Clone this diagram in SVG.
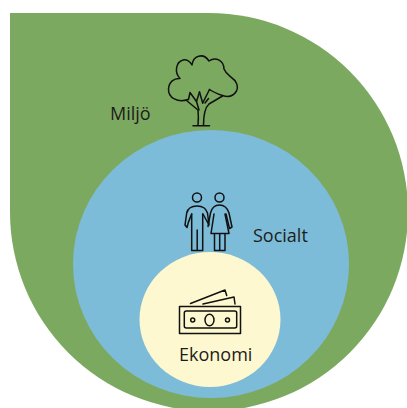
<svg xmlns="http://www.w3.org/2000/svg" width="407" height="408" viewBox="0 0 407 408">
<style>
text{font-family:"Open Sans","Noto Sans","Liberation Sans",sans-serif;font-size:18px;fill:#1c1c1c}
.i{fill:none;stroke:#111;stroke-width:1.5;stroke-linejoin:round;stroke-linecap:round}
</style>
<rect width="407" height="408" fill="#fff"/>
<g id="miljo">
<path d="M10 13H209A199 199 0 1 1 10 212Z" fill="#7ca960"/>
<text x="110" y="120">Miljö</text>
<g class="i">
<path d="M188 99.500C178 103 168 98 168.500 89C169 82 174 78 180 78.500C174 72 176 62 183 60C186 59 190 61 192 65C193 56 203 52 209 61C216 56 224 61 224 69C226 74 230 76 232 78C237 81 238.500 87 236.500 91C233 97 227 97 222.500 95.500C218 94 213 92 209.500 89.500"/>
<path d="M188.500 99.500L190 92.500L196.500 101.500L199.500 92M202.700 103L209.500 89.500M208.500 98.500L205 103"/>
<path d="M186.500 100.500L198 110C198.500 115 198.500 120 198 125.500M222.500 96L209 104C204.500 108 203.500 115 203.500 125.500M193 125.800H209.500"/>
<path d="M199.500 92L202.700 103M196.500 101.500L199 110"/>
</g>
</g>
<g id="socialt">
<ellipse cx="211" cy="264" rx="138" ry="134" fill="#7dbcd8"/>
<text x="253" y="242">Socialt</text>
<g class="i">
<circle cx="197" cy="197.500" r="4.500"/>
<circle cx="219.500" cy="197.500" r="4.500"/>
<path d="M191.700 214V250.500H202.700V214M197.200 230V250.500"/>
<path d="M191.700 214C190 218 188 222 187 227.500L185 225L186.700 213C188 208 192 206 197 206C202 206 206 208 207.500 213L209 225L203 214"/>
<path d="M208 226.500L210.500 213C212 207 216 205 219.500 205C223 205 227 207 229 213L232 227L229.500 228.500L226 214"/>
<path d="M214 214L211 233.500H229L225 214M214.500 233.500V250.500H225V233.500M219.700 233.500V250.500"/>
</g>
</g>
<g id="ekonomi">
<ellipse cx="210" cy="319.500" rx="70.500" ry="67.500" fill="#fdf8cf"/>
<text x="179" y="361">Ekonomi</text>
<g class="i">
<rect x="179.500" y="306.500" width="61" height="27"/>
<rect x="184.300" y="311" width="52.400" height="17" rx="2"/>
<circle cx="192.700" cy="320" r="2"/>
<circle cx="227.500" cy="320" r="2"/>
<ellipse cx="209.500" cy="320" rx="4.500" ry="5.800"/>
<path d="M190.500 303.500L225 290L226.700 295.500M203 304L234 297L235 304"/>
</g>
</g>
</svg>
